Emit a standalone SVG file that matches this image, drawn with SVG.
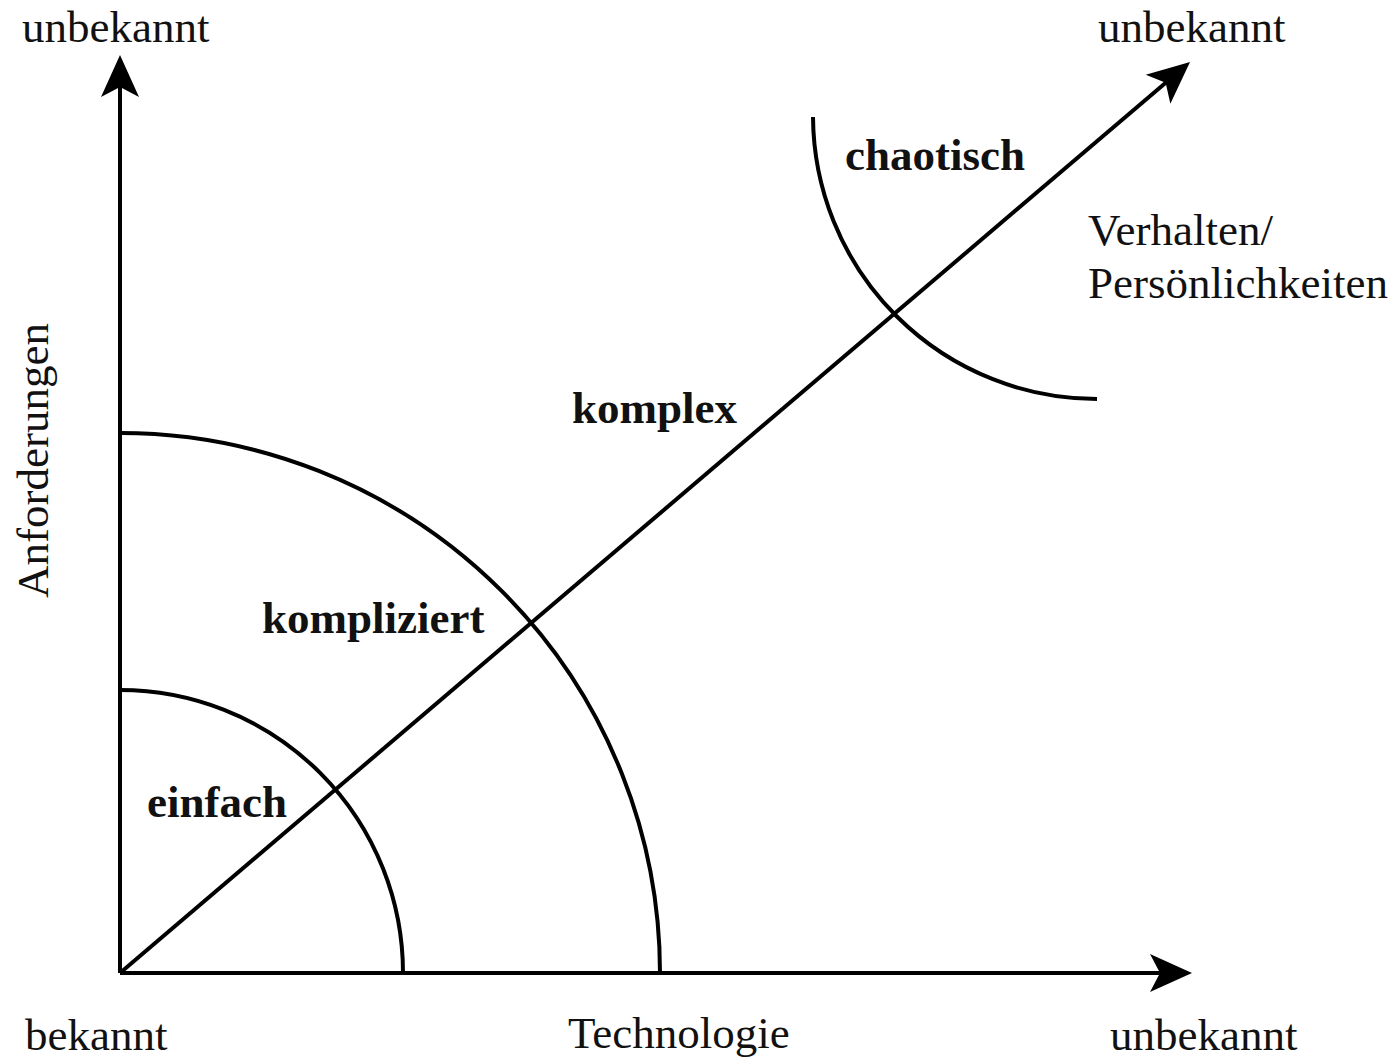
<svg xmlns="http://www.w3.org/2000/svg" width="1400" height="1058" viewBox="0 0 1400 1058">
<style>
.ln{fill:none;stroke:#000;stroke-width:4}
.t{font-family:"Liberation Serif","Times New Roman",serif;font-size:45px;fill:#111}
.b{font-weight:bold}
</style>
<defs>
<marker id="ah" markerUnits="userSpaceOnUse" markerWidth="50" markerHeight="50" viewBox="-45 -25 50 50" refX="-20" refY="0" orient="auto">
<path d="M0,0 L-42,-19 L-32,0 L-42,19 Z" fill="#000"/>
</marker>
</defs>
<rect width="1400" height="1058" fill="#fff"/>
<g id="connectors">
<line class="ln" x1="120" y1="973" x2="120" y2="75" marker-end="url(#ah)"/>
<line class="ln" x1="120" y1="973" x2="1172" y2="973" marker-end="url(#ah)"/>
<line class="ln" x1="120" y1="973" x2="1174.8" y2="75" marker-end="url(#ah)"/>
</g>
<g id="arc-einfach"><path class="ln" d="M120,690 A283,283 0 0 1 403,973"/></g>
<g id="arc-kompliziert"><path class="ln" d="M120,433 A540,540 0 0 1 660,973"/></g>
<g id="arc-chaotisch"><path class="ln" d="M813,117 A284,284 0 0 0 1097,399"/></g>
<g id="labels">
<text class="t" x="22" y="42">unbekannt</text>
<text class="t" x="1098" y="42">unbekannt</text>
<text class="t" x="25" y="1050">bekannt</text>
<text class="t" x="568" y="1048">Technologie</text>
<text class="t" x="1110" y="1050">unbekannt</text>
<text class="t" transform="translate(48,598) rotate(-90)">Anforderungen</text>
<text class="t" x="1088" y="245">Verhalten/</text>
<text class="t" x="1088" y="298">Persönlichkeiten</text>
<text class="t b" x="845" y="170">chaotisch</text>
<text class="t b" x="572" y="423">komplex</text>
<text class="t b" x="262" y="633">kompliziert</text>
<text class="t b" x="147" y="817">einfach</text>
</g>
</svg>
